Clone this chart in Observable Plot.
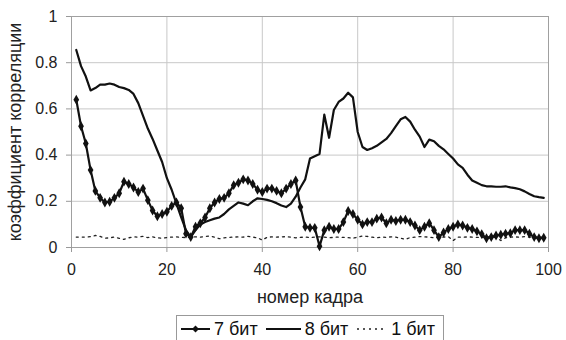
<!DOCTYPE html>
<html><head><meta charset="utf-8">
<script src="https://cdn.jsdelivr.net/npm/d3@7"></script>
<script src="https://cdn.jsdelivr.net/npm/@observablehq/plot@0.6"></script>
<style>
body{margin:0;background:#fff;font-family:"Liberation Sans",Arial,sans-serif;}
#chart{position:absolute;left:0;top:0;}
#legend{position:absolute;left:176px;top:315px;width:268px;height:30px;border:1px solid #999;box-sizing:border-box;display:flex;flex-wrap:nowrap;align-items:center;padding-left:4px;padding-bottom:2px;font-size:18px;line-height:20px;color:#111;white-space:nowrap;}
.item{display:flex;align-items:center;flex:0 0 auto;}
.item svg{margin-right:4px;flex:0 0 auto;}
.item span{margin-right:8px;}
</style></head><body>
<div id="chart"></div>
<div id="legend"></div>
<script>
const frames = d3.range(1, 100);
const seriesNames = ["7 бит", "8 бит", "1 бит"];
const xTicks = [0, 20, 40, 60, 80, 100];
const yTicks = [0, 0.2, 0.4, 0.6, 0.8, 1];

const bit7 = [
  0.64,0.525,0.45,0.335,0.245,0.215,0.195,0.198,0.215,0.235,
  0.285,0.275,0.26,0.24,0.255,0.205,0.16,0.135,0.145,0.155,
  0.18,0.195,0.17,0.06,0.045,0.09,0.105,0.13,0.17,0.195,
  0.21,0.215,0.235,0.27,0.28,0.295,0.29,0.275,0.25,0.24,
  0.255,0.255,0.245,0.235,0.255,0.275,0.29,0.175,0.09,0.085,
  0.085,0.005,0.075,0.09,0.08,0.08,0.11,0.158,0.145,0.12,
  0.1,0.11,0.11,0.125,0.13,0.105,0.12,0.115,0.12,0.12,
  0.11,0.095,0.075,0.09,0.105,0.075,0.045,0.065,0.08,0.09,
  0.1,0.095,0.085,0.08,0.07,0.058,0.04,0.045,0.052,0.055,
  0.06,0.062,0.075,0.075,0.075,0.06,0.045,0.04,0.042
];
const bit8 = [
  0.855,0.785,0.74,0.68,0.69,0.705,0.705,0.71,0.705,0.695,
  0.69,0.682,0.665,0.625,0.57,0.515,0.47,0.42,0.37,0.3,
  0.25,0.19,0.13,0.075,0.045,0.075,0.1,0.11,0.118,0.125,
  0.13,0.145,0.165,0.18,0.195,0.19,0.183,0.2,0.213,0.21,
  0.206,0.2,0.192,0.182,0.175,0.19,0.22,0.26,0.295,0.385,
  0.395,0.405,0.575,0.475,0.595,0.63,0.645,0.67,0.65,0.5,
  0.435,0.422,0.43,0.44,0.455,0.47,0.495,0.525,0.555,0.565,
  0.545,0.51,0.48,0.435,0.467,0.46,0.44,0.425,0.405,0.385,
  0.36,0.345,0.315,0.29,0.28,0.27,0.265,0.265,0.263,0.263,
  0.265,0.26,0.257,0.252,0.243,0.232,0.222,0.218,0.215
];
const bit1 = [
  0.045,0.045,0.045,0.047,0.052,0.048,0.04,0.042,0.045,0.04,
  0.035,0.042,0.046,0.045,0.048,0.043,0.046,0.042,0.04,0.043,
  0.045,0.046,0.044,0.043,0.045,0.046,0.045,0.048,0.05,0.045,
  0.038,0.042,0.044,0.045,0.046,0.045,0.048,0.045,0.042,0.032,
  0.044,0.046,0.045,0.046,0.047,0.045,0.042,0.044,0.045,0.043,
  0.045,0.046,0.045,0.042,0.044,0.045,0.044,0.043,0.04,0.045,
  0.05,0.048,0.045,0.042,0.045,0.044,0.046,0.045,0.04,0.035,
  0.043,0.045,0.047,0.046,0.045,0.042,0.044,0.045,0.047,0.03,
  0.045,0.044,0.046,0.045,0.044,0.043,0.045,0.046,0.043,0.03,
  0.042,0.045,0.046,0.044,0.047,0.045,0.043,0.045,0.045
];

const rows = (arr, name) => arr.map((v, i) => ({frame: frames[i], value: v, series: name}));
const d7 = rows(bit7, seriesNames[0]);
const d8 = rows(bit8, seriesNames[1]);
const d1 = rows(bit1, seriesNames[2]);

const plot = Plot.plot({
  width: 566, height: 312,
  marginLeft: 71, marginRight: 18, marginTop: 16, marginBottom: 65,
  style: {fontFamily: "'Liberation Sans', Arial, sans-serif", fontSize: "16px", color: "#222", background: "#fff", overflow: "visible"},
  x: {domain: [0, 100]},
  y: {domain: [0, 1]},
  marks: [
    Plot.gridX({ticks: xTicks, stroke: "#c8c8c8", strokeOpacity: 1}),
    Plot.gridY({ticks: yTicks, stroke: "#c8c8c8", strokeOpacity: 1}),
    Plot.frame({stroke: "#a0a0a0"}),
    Plot.axisX({ticks: xTicks, tickSize: 5, tickPadding: 11, stroke: "#999", fill: "#222", fontSize: 16, label: null}),
    Plot.axisX({ticks: [], tickSize: 0, label: "номер кадра", labelAnchor: "center", labelArrow: "none", labelOffset: 55, fontSize: 18, fill: "#222"}),
    Plot.axisY({ticks: yTicks, tickSize: 5, tickPadding: 9, stroke: "#999", fill: "#222", fontSize: 16,
      tickFormat: d3.format("~g"), label: null}),
    Plot.axisY({ticks: [], tickSize: 0, label: "коэффициент корреляции", labelAnchor: "center", labelArrow: "none", labelOffset: 63, fontSize: 18, fill: "#222"}),
    Plot.line(d1, {x: "frame", y: "value", stroke: "#222", strokeWidth: 1.3, strokeDasharray: "2,4"}),
    Plot.line(d8, {x: "frame", y: "value", stroke: "#111", strokeWidth: 2.2}),
    Plot.line(d7, {x: "frame", y: "value", stroke: "#111", strokeWidth: 2.2}),
    Plot.dot(d7, {x: "frame", y: "value", symbol: "diamond", r: 3, fill: "#111", stroke: "none"})
  ]
});
document.getElementById("chart").append(plot);

const samples = [
  '<svg width="29" height="10"><line x1="0" y1="5" x2="29" y2="5" stroke="#111" stroke-width="2"/><path d="M14.5 1.5 L18 5 L14.5 8.5 L11 5 Z" fill="#111"/></svg>',
  '<svg width="35" height="10"><line x1="0" y1="5" x2="35" y2="5" stroke="#111" stroke-width="2"/></svg>',
  '<svg width="31" height="10"><line x1="1" y1="5" x2="31" y2="5" stroke="#222" stroke-width="1.3" stroke-dasharray="2,4"/></svg>'
];
const legend = document.getElementById("legend");
seriesNames.forEach((n, i) => {
  const it = document.createElement("div");
  it.className = "item";
  it.innerHTML = samples[i] + "<span>" + n + "</span>";
  legend.append(it);
});
</script>
</body></html>
